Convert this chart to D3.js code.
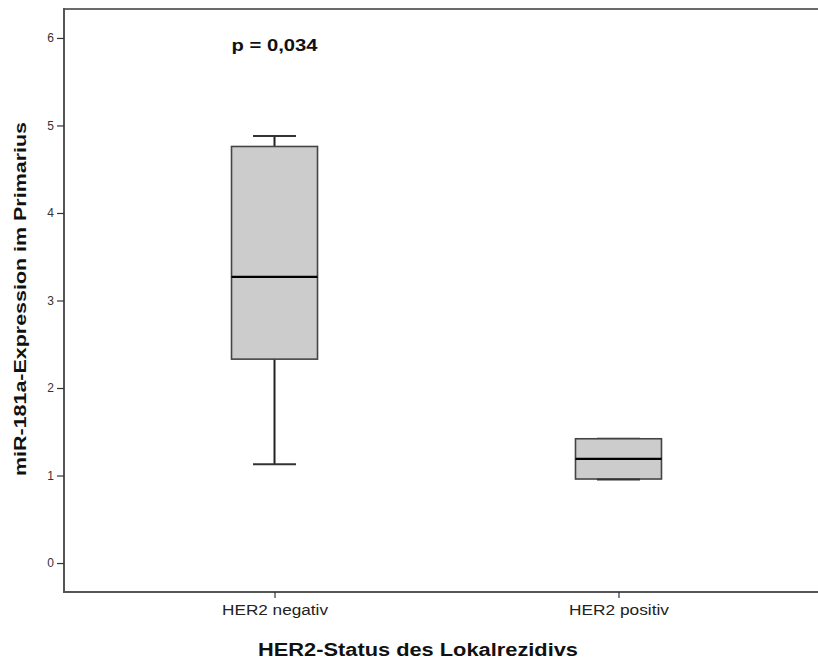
<!DOCTYPE html>
<html>
<head>
<meta charset="utf-8">
<script src="https://cdn.jsdelivr.net/npm/d3@7"></script>
<style>
  html, body { margin: 0; padding: 0; background: #fff; }
  svg { display: block; font-family: "Liberation Sans", Arial, sans-serif; }
</style>
</head>
<body>
<svg id="chart" width="818" height="661"></svg>
<script>
// ---- data ----
const categories = ["HER2 negativ", "HER2 positiv"];
const whiskerLow  = [1.13, 0.96];
const q1          = [2.33, 0.96];
const median      = [3.27, 1.19];
const q3          = [4.76, 1.42];
const whiskerHigh = [4.88, 1.42];
const yTicks = [0, 1, 2, 3, 4, 5, 6];
const yTitle = "miR-181a-Expression im Primarius";
const xTitle = "HER2-Status des Lokalrezidivs";
const pLabel = "p = 0,034";

// ---- layout ----
const svg = d3.select("#chart");
const plotLeft = 64, plotTop = 9, plotBottom = 592, plotRight = 829;

const y = d3.scaleLinear().domain([-0.331, 6.331]).range([plotBottom, plotTop]);
const x = d3.scalePoint().domain(categories).range([plotLeft, plotRight]).padding(0.612);

const boxW = 86, capW = 43;

// frame (left, top, bottom)
const frame = svg.append("g");
frame.append("line").attr("x1", plotLeft).attr("x2", 818).attr("y1", plotTop).attr("y2", plotTop)
  .attr("stroke", "#6b6b6b").attr("stroke-width", 2);
frame.append("line").attr("x1", plotLeft).attr("x2", 818).attr("y1", plotBottom).attr("y2", plotBottom)
  .attr("stroke", "#555").attr("stroke-width", 2);
frame.append("line").attr("x1", plotLeft).attr("x2", plotLeft).attr("y1", plotTop - 1).attr("y2", plotBottom + 1)
  .attr("stroke", "#555").attr("stroke-width", 2);

// y axis
const yAxis = d3.axisLeft(y).tickValues(yTicks).tickSize(7).tickPadding(3).tickFormat(d3.format("d"));
const gy = svg.append("g").attr("transform", `translate(${plotLeft},0)`).call(yAxis);
gy.select(".domain").remove();
gy.selectAll(".tick line").attr("stroke", "#333").attr("stroke-width", 1.2);
gy.selectAll(".tick text").attr("fill", "#333").style("font-size", "12px")
  .style("font-family", "'Liberation Sans', Arial, sans-serif");

// x axis
const xAxis = d3.axisBottom(x).tickSize(6).tickPadding(7);
const gx = svg.append("g").attr("transform", `translate(0,${plotBottom})`).call(xAxis);
gx.select(".domain").remove();
gx.selectAll(".tick line").attr("stroke", "#333").attr("stroke-width", 1.2);
gx.selectAll(".tick text").attr("fill", "#222").style("font-size", "14px")
  .style("font-family", "'Liberation Sans', Arial, sans-serif")
  .attr("textLength", (d, i) => i === 0 ? 106 : 100)
  .attr("lengthAdjust", "spacingAndGlyphs");

// boxes
const data = categories.map((c, i) => ({
  c, lo: whiskerLow[i], q1: q1[i], med: median[i], q3: q3[i], hi: whiskerHigh[i]
}));
const g = svg.append("g").selectAll("g").data(data).join("g");

// whisker stems
g.append("line").attr("x1", d => x(d.c)).attr("x2", d => x(d.c))
  .attr("y1", d => y(d.q3)).attr("y2", d => y(d.hi))
  .attr("stroke", "#222").attr("stroke-width", 2);
g.append("line").attr("x1", d => x(d.c)).attr("x2", d => x(d.c))
  .attr("y1", d => y(d.q1)).attr("y2", d => y(d.lo))
  .attr("stroke", "#222").attr("stroke-width", 2);
// caps
g.append("line").attr("x1", d => x(d.c) - capW / 2).attr("x2", d => x(d.c) + capW / 2)
  .attr("y1", d => y(d.hi)).attr("y2", d => y(d.hi))
  .attr("stroke", "#333").attr("stroke-width", 2);
g.append("line").attr("x1", d => x(d.c) - capW / 2).attr("x2", d => x(d.c) + capW / 2)
  .attr("y1", d => y(d.lo)).attr("y2", d => y(d.lo))
  .attr("stroke", "#333").attr("stroke-width", 2);
// box
g.append("rect").attr("x", d => x(d.c) - boxW / 2).attr("width", boxW)
  .attr("y", d => y(d.q3)).attr("height", d => y(d.q1) - y(d.q3))
  .attr("fill", "#cccccc").attr("stroke", "#444").attr("stroke-width", 1.6);
// lower cap drawn over box edge when coincident
g.filter(d => d.lo === d.q1).append("line")
  .attr("x1", d => x(d.c) - capW / 2).attr("x2", d => x(d.c) + capW / 2)
  .attr("y1", d => y(d.lo) + 0.5).attr("y2", d => y(d.lo) + 0.5)
  .attr("stroke", "#333").attr("stroke-width", 2);
// median
g.append("line").attr("x1", d => x(d.c) - boxW / 2).attr("x2", d => x(d.c) + boxW / 2)
  .attr("y1", d => y(d.med)).attr("y2", d => y(d.med))
  .attr("stroke", "#000").attr("stroke-width", 2.2);

// p-value annotation
svg.append("text").attr("x", x(categories[0])).attr("y", 51)
  .attr("text-anchor", "middle").attr("font-weight", "bold")
  .style("font-size", "17px").attr("fill", "#111")
  .attr("textLength", 86).attr("lengthAdjust", "spacingAndGlyphs")
  .text(pLabel);

// axis titles
svg.append("text").attr("x", 418).attr("y", 656)
  .attr("text-anchor", "middle").attr("font-weight", "bold")
  .style("font-size", "18px").attr("fill", "#111")
  .attr("textLength", 320).attr("lengthAdjust", "spacingAndGlyphs")
  .text(xTitle);

svg.append("text").attr("transform", "translate(26,299) rotate(-90)")
  .attr("text-anchor", "middle").attr("font-weight", "bold")
  .style("font-size", "17px").attr("fill", "#111")
  .attr("textLength", 354).attr("lengthAdjust", "spacingAndGlyphs")
  .text(yTitle);
</script>
</body>
</html>
